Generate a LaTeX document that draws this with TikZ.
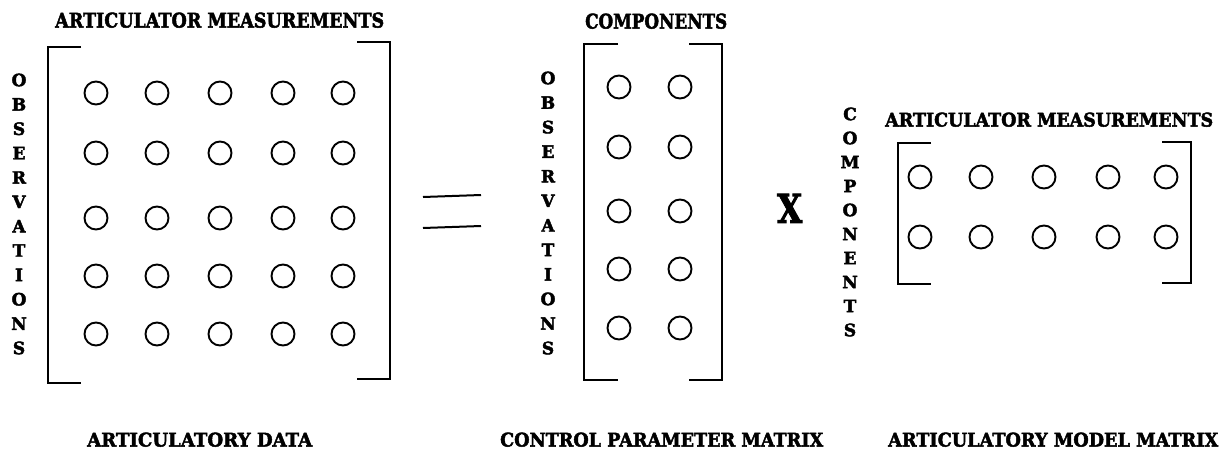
\documentclass[tikz,border=0pt]{standalone}
\usepackage{graphicx}
\usepackage{fontspec}
\setmainfont{DejaVu Serif}
\newfontfamily\heavy{DejaVu Serif}[BoldFeatures={FakeBold=2.5}]
\newcommand{\fitlabel}[3]{\resizebox{#1}{#2}{\heavy\bfseries #3}}
\begin{document}
\begin{tikzpicture}[x=1pt,y=-1pt,
  circ/.style={circle,draw,line width=1.9pt,minimum size=23pt,inner sep=0pt},
  brk/.style={line width=2.3pt,line cap=butt,line join=miter},
  eqline/.style={line width=2pt},
  lbl/.style={anchor=south west,inner sep=0pt},
  vl/.style={inner sep=0pt,font=\fontsize{17}{17}\selectfont\heavy\bfseries}]
\useasboundingbox (0,0) rectangle (1229,453);
\fill[white] (0,0) rectangle (1229,453);

% titles
\node[lbl] (t1) at (55,28) {\fitlabel{329pt}{15pt}{ARTICULATOR MEASUREMENTS}};
\node[lbl] (t2) at (585,29) {\fitlabel{142pt}{15pt}{COMPONENTS}};
\node[lbl] (t3) at (885,127) {\fitlabel{328pt}{14pt}{ARTICULATOR MEASUREMENTS}};
\node[lbl] (b1) at (87,447) {\fitlabel{225pt}{14pt}{ARTICULATORY DATA}};
\node[lbl] (b2) at (500,447) {\fitlabel{323pt}{14pt}{CONTROL PARAMETER MATRIX}};
\node[lbl] (b3) at (888,447) {\fitlabel{330pt}{14pt}{ARTICULATORY MODEL MATRIX}};
\node[lbl] (times) at (777,223) {\fitlabel{25pt}{29pt}{X}};

% vertical labels
\foreach \l [count=\i from 0] in {O,B,S,E,R,V,A,T,I,O,N,S}{
  \node[vl] (va\i) at (19,80+\i*24.36) {\l};
  \node[vl] (vb\i) at (548,78+\i*24.55) {\l};
}
\foreach \l [count=\i from 0] in {C,O,M,P,O,N,E,N,T,S}{
  \node[vl] (vc\i) at (850,114+\i*24) {\l};
}

% matrix 1
\foreach \x [count=\c] in {96,157,220,283,343}{
  \foreach \y [count=\r] in {93,153,218,276,334}{
    \node[circ] (m1-\r-\c) at (\x,\y) {};
  }
}
\draw[brk] (81,47) -- (48,47) -- (48,383) -- (81,383);
\draw[brk] (357,42) -- (390,42) -- (390,379) -- (357,379);

% equals
\draw[eqline] (423,197) -- (481,195);
\draw[eqline] (423,228) -- (481,226);

% matrix 2
\foreach \x [count=\c] in {619,680}{
  \foreach \y [count=\r] in {87,147,211,269,328}{
    \node[circ] (m2-\r-\c) at (\x,\y) {};
  }
}
\draw[brk] (618,44) -- (584,44) -- (584,380) -- (618,380);
\draw[brk] (689,44) -- (722,44) -- (722,380) -- (689,380);

% matrix 3
\foreach \x [count=\c] in {920,981,1044,1108,1166}{
  \foreach \y [count=\r] in {177,237}{
    \node[circ] (m3-\r-\c) at (\x,\y) {};
  }
}
\draw[brk] (931,143) -- (898,143) -- (898,284) -- (931,284);
\draw[brk] (1162,142) -- (1191,142) -- (1191,283) -- (1162,283);
\end{tikzpicture}
\end{document}
